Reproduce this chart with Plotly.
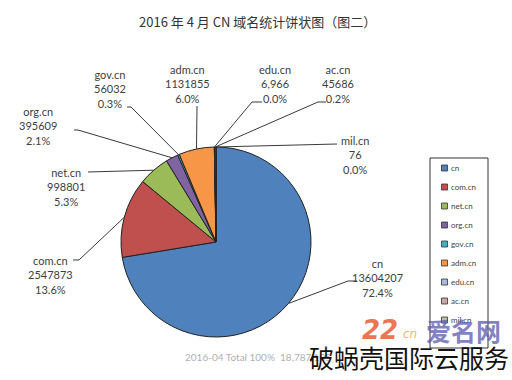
import numpy as np
import plotly.graph_objects as go

# ---- data ----
labels = ["cn", "com.cn", "net.cn", "org.cn", "gov.cn", "adm.cn", "edu.cn", "ac.cn", "mil.cn"]
values = [13604207, 2547873, 998801, 395609, 56032, 1131855, 6966, 45686, 76]
value_text = ["13604207", "2547873", "998801", "395609", "56032", "1131855", "6,966", "45686", "76"]
colors = ["#4F81BD", "#C0504D", "#9BBB59", "#8064A2", "#4BACC6", "#F79646", "#A9B8DC", "#C9A6A5", "#B7C1A6"]
title = "2016 年 4 月 CN 域名统计饼状图（图二）"
footer = "2016-04 Total 100%  18,787,105"

# ---- layout constants (pixels) ----
W, H = 512, 380
CX, CY, R = 216, 242, 95


def px(x):
    return x / W


def py(y):
    return 1 - y / H


# label centers and leader-line anchor paths (pixels)
label_pos = {
    "cn": (377, 278), "com.cn": (50, 275), "net.cn": (66, 187), "org.cn": (38, 126),
    "gov.cn": (110, 89), "adm.cn": (187, 84), "edu.cn": (275, 84), "ac.cn": (338, 84),
    "mil.cn": (355, 155),
}
leader_pts = {
    "cn": [(348, 281), (357, 281)], "com.cn": [(79, 260), (73, 260)],
    "net.cn": [(88, 172)], "org.cn": [(78, 130), (74, 130)],
    "gov.cn": [(131, 107), (127, 107)], "adm.cn": [(197, 106)],
    "edu.cn": [(252, 102), (262, 102)], "ac.cn": [(318, 102), (326, 102)],
    "mil.cn": [(337, 144)],
}

vals = np.array(values, dtype=float)
total = vals.sum()
pct = vals / total * 100
cum = np.cumsum(vals) - vals / 2
mid_ang = cum / total * 2 * np.pi  # clockwise from top

fig = go.Figure()
fig.add_trace(go.Pie(
    labels=labels, values=values, sort=False, direction="clockwise", rotation=0,
    marker=dict(colors=colors, line=dict(color="#222222", width=1)),
    textinfo="none", hoverinfo="label+value+percent", showlegend=False,
    domain=dict(x=[px(CX - R), px(CX + R)], y=[py(CY + R), py(CY - R)]),
))

shapes = []
annotations = []
for i, lab in enumerate(labels):
    ex = CX + R * np.sin(mid_ang[i])
    ey = CY - R * np.cos(mid_ang[i])
    pts = [(ex, ey)] + leader_pts[lab]
    path = "M " + " L ".join(f"{px(x):.5f},{py(y):.5f}" for x, y in pts)
    shapes.append(dict(type="path", path=path, xref="paper", yref="paper",
                       line=dict(color="#3a3a3a", width=1)))
    lx, ly = label_pos[lab]
    annotations.append(dict(
        x=px(lx), y=py(ly), xref="paper", yref="paper", showarrow=False,
        text=f"{lab}<br>{value_text[i]}<br>{pct[i]:.1f}%",
        font=dict(family="Lato, Open Sans, sans-serif", size=11, color="#404040"),
        align="center", xanchor="center", yanchor="middle",
    ))

# legend (box + swatches), one entry per category
LX0, LX1, LY0, LY1 = 430, 488, 158, 348
shapes.append(dict(type="rect", xref="paper", yref="paper", x0=px(LX0), x1=px(LX1),
                   y0=py(LY1), y1=py(LY0), line=dict(color="#333333", width=1),
                   fillcolor="white", layer="below"))
for i, lab in enumerate(labels):
    yc = 168 + 19 * i
    shapes.append(dict(type="rect", xref="paper", yref="paper", x0=px(441.5), x1=px(447.5),
                       y0=py(yc + 3), y1=py(yc - 3), fillcolor=colors[i],
                       line=dict(color="#333333", width=0.8)))
    annotations.append(dict(x=px(449), y=py(yc), xref="paper", yref="paper", showarrow=False,
                            text=lab, xanchor="left", yanchor="middle",
                            font=dict(family="Lato, sans-serif", size=8, color="#444444")))

annotations.append(dict(x=px(257), y=py(22), xref="paper", yref="paper", showarrow=False,
                        text=title, xanchor="center", yanchor="middle",
                        font=dict(family="Noto Sans CJK SC", size=13, color="#333333")))
annotations.append(dict(x=px(183), y=py(357), xref="paper", yref="paper", showarrow=False,
                        text=footer, xanchor="left", yanchor="middle",
                        font=dict(family="Lato, sans-serif", size=10, color="#b0b0b0")))
# logo watermark
annotations.append(dict(x=px(380), y=py(330), xref="paper", yref="paper", showarrow=False,
                        text="22", xanchor="center", yanchor="middle", opacity=0.8,
                        font=dict(family="DejaVu Sans", size=26, color="#E8552A",
                                  weight="bold", style="italic")))
annotations.append(dict(x=px(410), y=py(334), xref="paper", yref="paper", showarrow=False,
                        text="cn", xanchor="center", yanchor="middle", opacity=0.75,
                        font=dict(family="DejaVu Sans", size=12, color="#F29A3A", style="italic")))
annotations.append(dict(x=px(463), y=py(330), xref="paper", yref="paper", showarrow=False,
                        text="爱名网", xanchor="center", yanchor="middle", opacity=0.75,
                        font=dict(family="Noto Sans CJK SC", size=25, color="#5A5AB0",
                                  weight="bold")))
annotations.append(dict(x=px(409), y=py(357), xref="paper", yref="paper", showarrow=False,
                        text="破蜗壳国际云服务", xanchor="center", yanchor="middle",
                        font=dict(family="Noto Sans CJK SC", size=25, color="#111111")))

fig.update_layout(
    width=W, height=H, margin=dict(l=0, r=0, t=0, b=0),
    paper_bgcolor="white", plot_bgcolor="white",
    shapes=shapes, annotations=annotations,
    showlegend=False,
)
fig.write_html("out.html", config={"displayModeBar": False},
               post_script="document.body.style.margin='0';")
